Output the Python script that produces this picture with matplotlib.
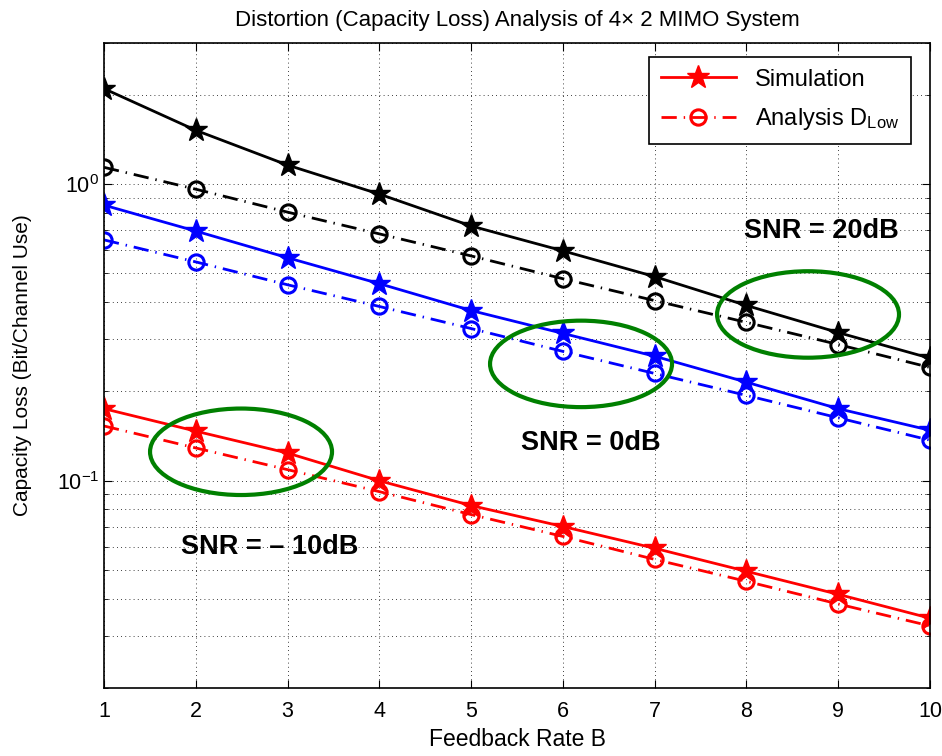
import numpy as np
import matplotlib
matplotlib.use('Agg')
import matplotlib.pyplot as plt
from matplotlib.patches import Ellipse

plt.rcParams['font.family'] = ['Liberation Sans', 'DejaVu Sans']
plt.rcParams['mathtext.fontset'] = 'custom'
plt.rcParams['mathtext.rm'] = 'Liberation Sans'
plt.rcParams['mathtext.it'] = 'Liberation Sans:italic'

# feedback rate B
rate = [1, 2, 3, 4, 5, 6, 7, 8, 9, 10]

# capacity loss, simulation (stars) and analysis D_Low (circles)
sim_20db = [2.10, 1.52, 1.16, 0.926, 0.723, 0.596, 0.488, 0.390, 0.316, 0.259]
ana_20db = [1.14, 0.962, 0.805, 0.680, 0.573, 0.480, 0.405, 0.342, 0.288, 0.241]
sim_0db = [0.850, 0.695, 0.565, 0.462, 0.375, 0.314, 0.263, 0.215, 0.175, 0.148]
ana_0db = [0.649, 0.547, 0.458, 0.387, 0.326, 0.273, 0.230, 0.194, 0.163, 0.137]
sim_m10db = [0.175, 0.147, 0.124, 0.100, 0.0825, 0.0701, 0.0592, 0.0495, 0.0414, 0.0344]
ana_m10db = [0.153, 0.129, 0.109, 0.0919, 0.0769, 0.0649, 0.0543, 0.0458, 0.0384, 0.0324]

fig = plt.figure(figsize=(9.42, 7.56), dpi=100)
ax = fig.add_axes([0.1104, 0.0899, 0.8769, 0.8536])

dd = [5.5, 2.5, 0.5, 2.5]
for sim, ana, c in [(sim_20db, ana_20db, 'k'),
                    (sim_0db, ana_0db, 'b'),
                    (sim_m10db, ana_m10db, 'r')]:
    ax.plot(rate, sim, '-', color=c, lw=2, marker='*', ms=17,
            label='Simulation')
    ax.plot(rate, ana, color=c, lw=2, dashes=dd, marker='o', ms=11,
            mfc='none', mew=2.2, label=r'Analysis D$_{\rm Low}$')

ax.set_yscale('log')
ax.set_xlim(1, 10)
ax.set_ylim(0.02, 3)
ax.set_xticks(rate)
ax.tick_params(which='both', direction='in', top=True, right=True,
               labelsize=15.5)
ax.tick_params(which='major', length=6)
ax.tick_params(which='minor', length=3)
ax.tick_params(axis='x', pad=9)
ax.grid(True, which='major', color='k', lw=0.6, ls=(0, (1, 4)))
ax.grid(True, which='minor', axis='y', color='k', lw=0.6, ls=(0, (1, 4)))
for s in ax.spines.values():
    s.set_linewidth(1.2)

# green ellipses highlighting the gap
for cx, cy in [(0.1659, 0.3661), (0.5775, 0.5023), (0.8523, 0.5789)]:
    ax.add_patch(Ellipse((cx, cy), 0.2203, 0.134, transform=ax.transAxes,
                         fill=False, ec='#008000', lw=3, zorder=5))

ax.text(0.868, 0.709, 'SNR = 20dB', transform=ax.transAxes, ha='center',
        va='center', fontsize=19.5, fontweight='bold')
ax.text(0.5896, 0.379, 'SNR = 0dB', transform=ax.transAxes, ha='center',
        va='center', fontsize=19.5, fontweight='bold')
ax.text(0.201, 0.218, 'SNR = \u2013 10dB', transform=ax.transAxes,
        ha='center', va='center', fontsize=19.5, fontweight='bold')

h, l = ax.get_legend_handles_labels()
leg = ax.legend(h[4:6], l[4:6], loc='upper right',
                bbox_to_anchor=(0.977, 0.978), fontsize=17,
                handlelength=3.2, labelspacing=0.65, fancybox=False,
                framealpha=1, edgecolor='k', borderaxespad=0,
                borderpad=0.5)
leg.get_frame().set_linewidth(1.2)

ax.set_title('Distortion (Capacity Loss) Analysis of 4\u00d7 2 MIMO System',
             fontsize=16, pad=12)
ax.set_xlabel('Feedback Rate B', fontsize=16.5, labelpad=5)
ax.set_ylabel('Capacity Loss (Bit/Channel Use)', fontsize=15)
ax.yaxis.set_label_coords(-0.087, 0.5)

fig.savefig('out.png', dpi=100)
